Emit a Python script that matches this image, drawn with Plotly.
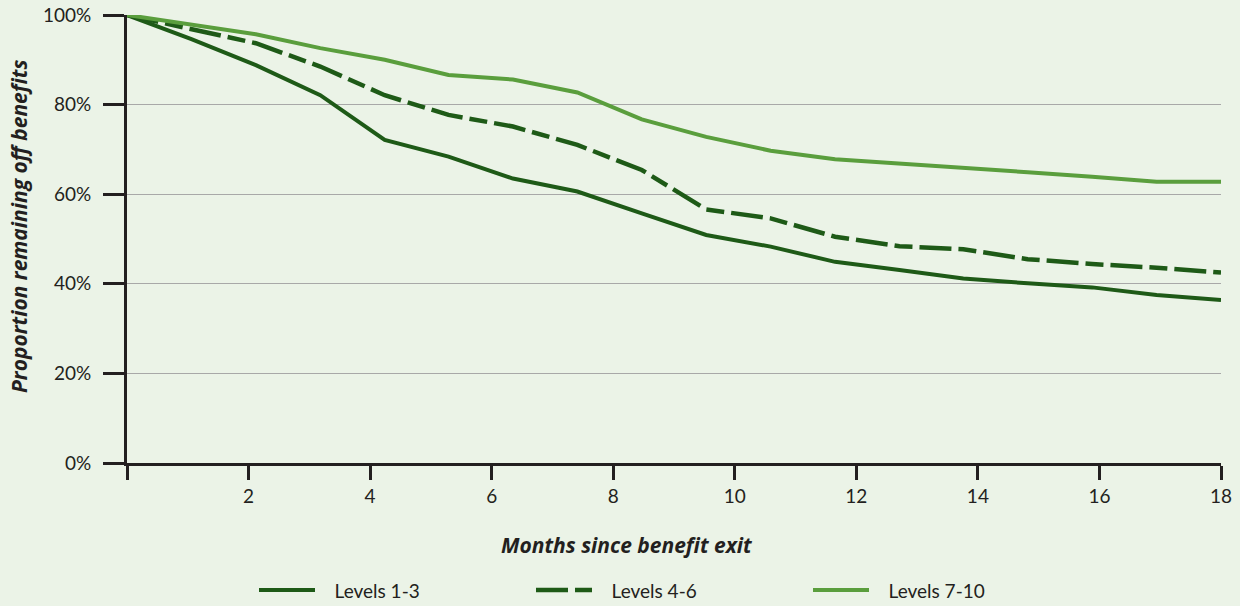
import plotly.graph_objects as go

months = [0, 1.06, 2.12, 3.18, 4.24, 5.29, 6.35, 7.41, 8.47, 9.53, 10.59, 11.65, 12.71, 13.76, 14.82, 15.88, 16.94, 18]
levels_1_3 = [100, 94.6, 88.8, 82.1, 72.1, 68.4, 63.5, 60.6, 55.7, 50.9, 48.3, 44.9, 43.1, 41.2, 40.1, 39.2, 37.5, 36.4]
levels_4_6 = [100, 96.8, 93.7, 88.5, 82.1, 77.7, 75.1, 71.0, 65.4, 56.6, 54.6, 50.5, 48.4, 47.7, 45.5, 44.4, 43.6, 42.5]
levels_7_10 = [100, 97.8, 95.7, 92.6, 90.0, 86.6, 85.6, 82.7, 76.7, 72.8, 69.7, 67.8, 66.9, 65.9, 64.9, 63.9, 62.8, 62.8]
series_names = ["Levels 1-3", "Levels 4-6", "Levels 7-10"]

x_tickvals = [0, 2, 4, 6, 8, 10, 12, 14, 16, 18]
x_ticktext = ["", "2", "4", "6", "8", "10", "12", "14", "16", "18"]
y_tickvals = [0, 20, 40, 60, 80, 100]
y_ticktext = ["0%", "20%", "40%", "60%", "80%", "100%"]
x_title = "Months since benefit exit"
y_title = "Proportion remaining off benefits"

DARK = "#1E5A17"
LIGHT = "#5A9E3D"
BG = "#EBF3E7"
AX = "#231F20"
FONT = "Lato"
TFONT = "Open Sans"
PAD = "\u00a0\u00a0\u00a0"

fig = go.Figure()
fig.add_trace(go.Scatter(x=months, y=levels_1_3, mode="lines", name=PAD + series_names[0],
                         line=dict(color=DARK, width=4), cliponaxis=False))
fig.add_trace(go.Scatter(x=months, y=levels_4_6, mode="lines", name=PAD + series_names[1],
                         line=dict(color=DARK, width=4.5, dash="32px,7px,18px,7px"), cliponaxis=False))
fig.add_trace(go.Scatter(x=months, y=levels_7_10, mode="lines", name=PAD + series_names[2],
                         line=dict(color=LIGHT, width=4), cliponaxis=False))

title_font = dict(family=TFONT, size=21, color=AX, weight="bold", style="italic")

fig.update_layout(
    width=1240, height=606,
    paper_bgcolor=BG, plot_bgcolor=BG,
    margin=dict(l=127, r=19, t=15, b=143, autoexpand=False),
    font=dict(family=FONT, size=19, color=AX),
    showlegend=True,
    legend=dict(orientation="h", x=254 / 1240, xanchor="left", xref="container",
                y=0.026, yanchor="middle", yref="container",
                entrywidth=206, entrywidthmode="pixels", itemwidth=56,
                font=dict(family=FONT, size=19, color=AX), bgcolor="rgba(0,0,0,0)"),
    xaxis=dict(
        range=[0, 18], tickvals=x_tickvals, ticktext=x_ticktext,
        showgrid=False, zeroline=False, automargin=False,
        showline=True, linecolor=AX, linewidth=3,
        ticks="outside", ticklen=14, tickwidth=3, tickcolor=AX,
        tickfont=dict(family=FONT, size=19, color=AX),
    ),
    yaxis=dict(
        range=[0, 100], tickvals=y_tickvals, ticktext=y_ticktext,
        showgrid=True, gridcolor="#A8A8A8", gridwidth=1.2, zeroline=False, automargin=False,
        showline=True, linecolor=AX, linewidth=3,
        ticks="outside", ticklen=21, tickwidth=3, tickcolor=AX, ticklabelstandoff=8,
        tickfont=dict(family=FONT, size=19, color=AX),
    ),
    annotations=[
        dict(text=x_title, xref="paper", yref="paper", x=(627 - 127) / 1094, y=(463 - 545) / 448,
             xanchor="center", yanchor="middle", showarrow=False, font=title_font),
        dict(text=y_title, xref="paper", yref="paper", x=(19 - 127) / 1094, y=(463 - 227) / 448,
             xanchor="center", yanchor="middle", textangle=-90, showarrow=False, font=title_font),
    ],
)

fig.write_html("out.html", config={"displayModeBar": False},
               post_script="document.body.style.margin='0';document.body.style.background='" + BG + "';")
